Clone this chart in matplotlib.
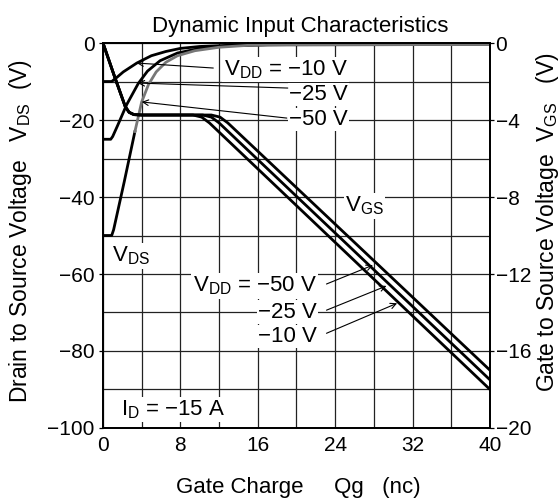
import matplotlib.pyplot as plt

plt.rcParams['font.family'] = ['Liberation Sans', 'DejaVu Sans']
plt.rcParams['mathtext.fontset'] = 'custom'
plt.rcParams['mathtext.rm'] = 'Liberation Sans'

# drain-source voltage vs gate charge, one curve per VDD
qg_vds_10 = [0, 0.9, 1.4, 2.1, 3.5, 5.0, 6.5, 8.0, 10, 13, 17, 40]
vds_10 = [-10, -10, -9.0, -7.5, -5.2, -3.3, -2.2, -1.4, -0.9, -0.6, -0.45, -0.4]

qg_vds_25 = [0, 0.8, 1.0, 1.5, 2.45, 3.65, 4.6, 5.9, 7.7, 10, 13, 17, 40]
vds_25 = [-25, -25, -24.3, -21.5, -16, -10.5, -7.3, -4.6, -2.6, -1.4, -0.7, -0.45, -0.4]

qg_vds_50 = [0, 0.9, 1.1, 2.2, 3.3, 4.0, 4.7, 5.5, 6.5, 7.7, 9.5, 12, 15, 19, 40]
vds_50 = [-50, -50, -48.5, -36, -23, -15.3, -10.8, -7.5, -5.0, -3.3, -2.0, -1.1, -0.6, -0.42, -0.4]

# gate-source voltage (right axis)
qg_vgs_10 = [0, 1.2, 2.3, 2.7, 3.2, 4.0, 9.3, 10.2, 11.0, 40]
vgs_10 = [0, -1.75, -3.3, -3.6, -3.72, -3.74, -3.74, -3.85, -4.15, -18.0]

qg_vgs_25 = [0, 1.2, 2.3, 2.7, 3.2, 4.0, 10.3, 11.2, 12.0, 40]
vgs_25 = [0, -1.75, -3.3, -3.6, -3.72, -3.74, -3.74, -3.85, -4.15, -17.5]

qg_vgs_50 = [0, 1.2, 2.3, 2.7, 3.2, 4.0, 11.2, 12.1, 12.9, 40]
vgs_50 = [0, -1.75, -3.3, -3.6, -3.72, -3.74, -3.74, -3.85, -4.15, -17.0]

fig = plt.figure(figsize=(5.6, 4.99), dpi=100)
ax = fig.add_axes([0.1839, 0.1423, 0.6911, 0.7715])
ax2 = ax.twinx()

ax.set_xlim(0, 40)
ax.set_ylim(-100, 0)
ax2.set_ylim(-20, 0)

ax.set_xticks(range(0, 41, 8))
ax.set_xticks(range(0, 41, 4), minor=True)
ax.set_yticks(range(-100, 1, 20))
ax.set_yticks(range(-100, 1, 10), minor=True)
ax2.set_yticks(range(-20, 1, 4))
ax.grid(which='both', color='#222222', lw=0.9)
ax.set_axisbelow(True)

ax.tick_params(axis='x', which='both', length=0, pad=6, labelsize=15)
ax.tick_params(axis='y', which='major', length=3, width=0.9, pad=3, labelsize=15)
ax.tick_params(axis='y', which='minor', length=0)
ax2.tick_params(axis='y', length=3, width=0.9, pad=1, labelsize=15)
for a in (ax, ax2):
    for s in a.spines.values():
        s.set_linewidth(1.3)

lw = 2.0
ax.plot(qg_vds_10, vds_10, color='black', lw=lw)
ax.plot(qg_vds_25, vds_25, color='black', lw=lw)
ax.plot(qg_vds_50[:5], vds_50[:5], color='black', lw=lw)
ax.plot(qg_vds_50[4:], vds_50[4:], color='#777777', lw=lw)
for q, v in ((qg_vgs_10, vgs_10), (qg_vgs_25, vgs_25), (qg_vgs_50, vgs_50)):
    ax2.plot(q, v, color='black', lw=lw)

box = dict(fc='white', ec='none', pad=1)
fs = 16
ax.text(25.3, -8.3, 'V$_\\mathregular{DD}$ = \u221210 V', ha='right', va='baseline', fontsize=fs, bbox=box, zorder=4)
ax.text(25.3, -14.8, '\u221225 V', ha='right', va='baseline', fontsize=fs, bbox=box, zorder=4)
ax.text(25.3, -21.3, '\u221250 V', ha='right', va='baseline', fontsize=fs, bbox=box, zorder=4)
ax.text(22.1, -64.6, 'V$_\\mathregular{DD}$ = \u221250 V', ha='right', va='baseline', fontsize=fs, bbox=box, zorder=4)
ax.text(22.1, -71.3, '\u221225 V', ha='right', va='baseline', fontsize=fs, bbox=box, zorder=4)
ax.text(22.1, -77.7, '\u221210 V', ha='right', va='baseline', fontsize=fs, bbox=box, zorder=4)
ax.text(25.0, -43.8, 'V$_\\mathregular{GS}$', ha='left', va='baseline', fontsize=fs, bbox=box, zorder=4)
ax.text(0.9, -56.8, 'V$_\\mathregular{DS}$', ha='left', va='baseline', fontsize=fs, bbox=box, zorder=4)
ax.text(1.9, -96.6, 'I$_\\mathregular{D}$ = \u221215 A', ha='left', va='baseline', fontsize=fs, bbox=box, zorder=4)

arrows = [((11.4, -6.5), (3.48, -5.2)),
          ((19.1, -11.7), (3.6, -10.4)),
          ((19.0, -19.5), (4.0, -15.3)),
          ((23.1, -62.6), (27.9, -57.7)),
          ((23.1, -69.4), (29.3, -63.1)),
          ((23.1, -75.4), (30.4, -67.6))]
for start, tip in arrows:
    ax.annotate('', xy=tip, xytext=start, zorder=5,
                arrowprops=dict(arrowstyle='->', lw=0.8, color='black',
                                shrinkA=0, shrinkB=0))

fig.text(0.536, 0.9365, 'Dynamic Input Characteristics', ha='center', va='baseline', fontsize=16)
fig.text(0.533, 0.0127, 'Gate Charge     Qg   (nc)', ha='center', va='baseline', fontsize=16)
fig.text(0.036, 0.537, 'Drain to Source Voltage   V$_\\mathregular{DS}$  (V)',
         rotation=90, ha='center', va='center', fontsize=16.5)
fig.text(0.977, 0.555, 'Gate to Source Voltage  V$_\\mathregular{GS}$   (V)',
         rotation=90, ha='center', va='center', fontsize=16.5)

fig.savefig('out.png', dpi=100)
